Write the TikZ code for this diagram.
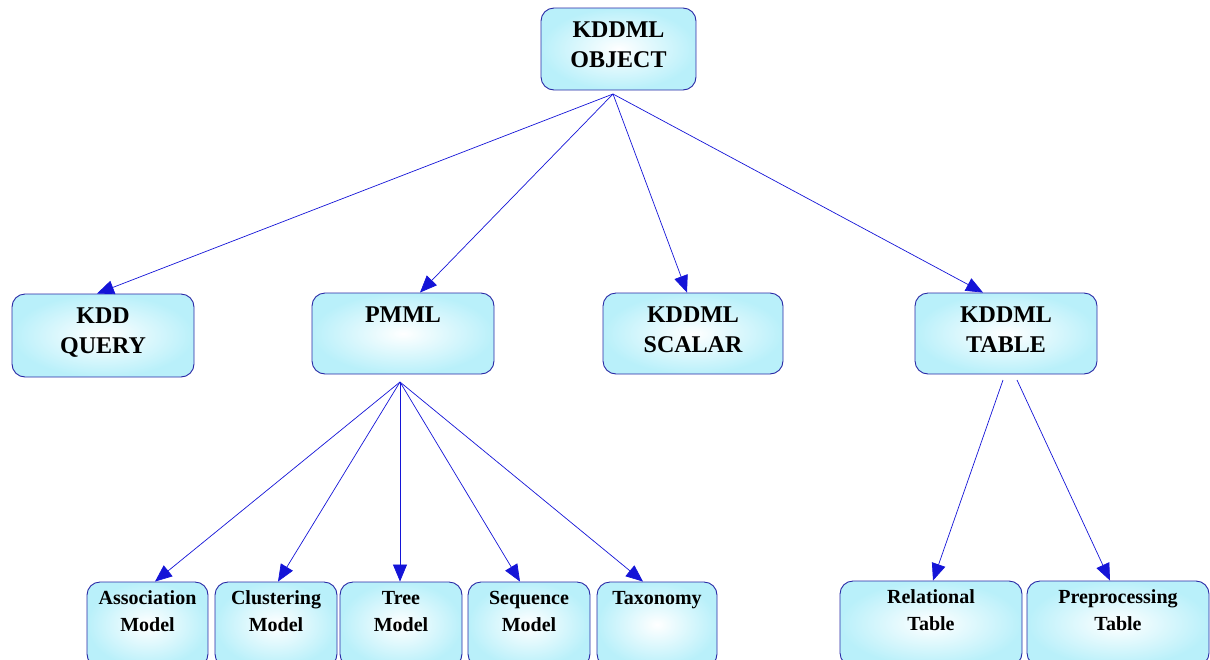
\documentclass[tikz,border=0pt]{standalone}
\usepackage{fontspec}
\setmainfont{Liberation Serif}
\usetikzlibrary{arrows.meta}
\definecolor{boxfill}{RGB}{185,240,250}
\definecolor{boxline}{RGB}{40,40,165}
\definecolor{linkblue}{RGB}{20,20,215}
\newcommand{\boxtext}[4]{\parbox[c][#2pt][t]{#1pt}{\centering\rule{0pt}{#3pt}#4}}

\begin{document}
\begin{tikzpicture}[x=1pt,y=-1pt,
  kbox/.style={draw=boxline,line width=0.9pt,rounded corners=13pt,inner color=white,outer color=boxfill,inner sep=0pt,font=\bfseries\fontsize{24}{30}\selectfont},
  leaf/.style={kbox,font=\bfseries\fontsize{20}{27}\selectfont},
  link/.style={linkblue,line width=0.7pt,-{Triangle[length=17pt,width=14pt]}}]
\useasboundingbox (0,0) rectangle (1210,659);
\node[kbox] (obj) at (618.5,49) {\boxtext{155}{82}{29}{KDDML\\OBJECT}};
\node[kbox] (query) at (103,335.5) {\boxtext{182}{83}{29}{KDD\\QUERY}};
\node[kbox] (pmml) at (403,333.5) {\boxtext{182}{81}{29}{PMML}};
\node[kbox] (scalar) at (693,333.5) {\boxtext{180}{81}{29}{KDDML\\SCALAR}};
\node[kbox] (table) at (1006,333.5) {\boxtext{182}{81}{29}{KDDML\\TABLE}};
% leaves
\foreach \n/\x/\w/\t in {assoc/147.5/121/Association\\Model,clust/276/122/Clustering\\Model,tree/401/122/Tree\\Model,seq/529/122/Sequence\\Model,taxo/657/120/Taxonomy}
  \node[leaf] (\n) at (\x,624.5) {\boxtext{\w}{85}{22}{\t}};
\foreach \n/\x/\t in {rel/931/Relational\\Table,prep/1118/Preprocessing\\Table}
  \node[leaf] (\n) at (\x,623.5) {\boxtext{182}{85}{22}{\t}};
\coordinate (objfoot) at (613,94); \coordinate (pmmlfoot) at (400,382);
\coordinate (tabfootA) at (1003,380); \coordinate (tabfootB) at (1017,380);
\foreach \n/\s in {query/-6,pmml/17,scalar/-6,table/-23}{\draw[link] (objfoot) -- ([xshift=\s]\n.north);}
\foreach \n/\s in {assoc/7.5,clust/2,tree/-1,seq/-9,taxo/-14}{\draw[link] (pmmlfoot) -- ([xshift=\s]\n.north);}
\draw[link] (tabfootA) -- ([xshift=2]rel.north);
\draw[link] (tabfootB) -- ([xshift=-8]prep.north);
\end{tikzpicture}
\end{document}
